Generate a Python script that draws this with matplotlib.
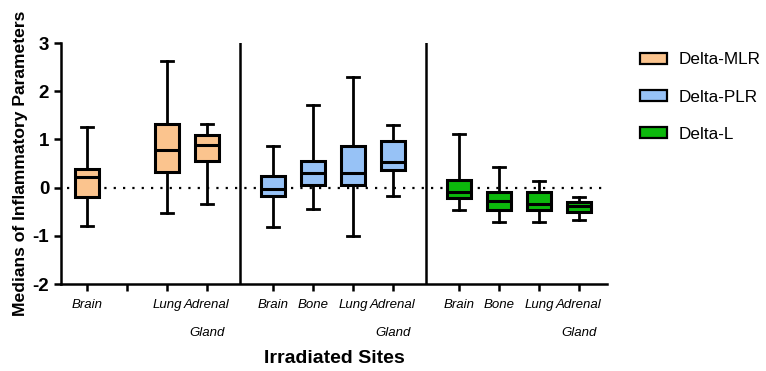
import matplotlib
matplotlib.use("Agg")
import matplotlib.pyplot as plt
from matplotlib.patches import Patch

plt.rcParams["font.family"] = ["Liberation Sans", "DejaVu Sans"]
plt.rcParams["axes.unicode_minus"] = False

groups = ["Delta-MLR", "Delta-PLR", "Delta-L"]
colors = ["#FBC48E", "#97C2F6", "#0CB80C"]
sites = ["Brain", "Bone", "Lung", "Adrenal\n\nGland"]

# five-number summaries per site: low whisker, Q1, median, Q3, high whisker (None = no data)
mlr = [(-0.79, -0.19, 0.22, 0.39, 1.25), None,
       (-0.52, 0.32, 0.78, 1.33, 2.63), (-0.35, 0.56, 0.88, 1.10, 1.31)]
plr = [(-0.81, -0.18, -0.02, 0.25, 0.86), (-0.45, 0.06, 0.31, 0.56, 1.71),
       (-1.00, 0.05, 0.30, 0.86, 2.30), (-0.18, 0.37, 0.54, 0.96, 1.30)]
dl = [(-0.47, -0.22, -0.10, 0.16, 1.12), (-0.71, -0.46, -0.28, -0.10, 0.43),
      (-0.71, -0.47, -0.34, -0.09, 0.14), (-0.68, -0.50, -0.38, -0.29, -0.19)]
data = [mlr, plr, dl]

fig = plt.figure(figsize=(7.66, 3.71), dpi=100)
ax = fig.add_axes([0.0796, 0.2345, 0.7128, 0.6495])

gap = 4.65
ticks, labels = [], []
for g, (series, col) in enumerate(zip(data, colors)):
    stats, pos = [], []
    for i, s in enumerate(series):
        x = g * gap + i
        ticks.append(x)
        labels.append(sites[i] if s is not None else "")
        if s is None:
            continue
        lo, q1, med, q3, hi = s
        stats.append(dict(whislo=lo, q1=q1, med=med, q3=q3, whishi=hi, fliers=[]))
        pos.append(x)
    ax.bxp(stats, positions=pos, widths=0.62, patch_artist=True, showfliers=False,
           boxprops=dict(facecolor=col, edgecolor="black", linewidth=2.2),
           medianprops=dict(color="black", linewidth=2.2),
           whiskerprops=dict(color="black", linewidth=2),
           capprops=dict(color="black", linewidth=2), capwidths=0.3)
    if g > 0:
        ax.axvline(g * gap - (gap - 3) / 2, color="black", lw=1.8)

ax.plot([-0.5, 12.9], [0, 0], ls=(0, (1, 3.2)), color="black", lw=1.6, zorder=0)

ax.set_xlim(-0.65, 13.0)
ax.set_ylim(-2, 3)
ax.set_yticks([-2, -1, 0, 1, 2, 3])
ax.set_xticks(ticks)
ax.set_xticklabels(labels, fontstyle="italic", fontsize=9.5, va="top", linespacing=1.2)
for lab in ax.get_yticklabels():
    lab.set_fontweight("bold")
    lab.set_fontsize(13.5)
ax.tick_params(axis="both", width=1.8, length=5, direction="out")
ax.tick_params(axis="x", pad=6)
for side in ["top", "right"]:
    ax.spines[side].set_visible(False)
for side in ["left", "bottom"]:
    ax.spines[side].set_linewidth(1.8)

ax.set_ylabel("Medians of Inflammatory Parameters", fontsize=12.6, fontweight="bold", labelpad=3)
ax.set_xlabel("Irradiated Sites", fontsize=14, fontweight="bold", labelpad=8)

handles = [Patch(facecolor=c, edgecolor="black", linewidth=1.6, label=n) for n, c in zip(groups, colors)]
fig.legend(handles=handles, loc="upper left", bbox_to_anchor=(0.815, 0.9), frameon=False,
           fontsize=12.3, handlelength=1.6, handleheight=0.6, labelspacing=1.3, handletextpad=0.7)

fig.savefig("out.png", dpi=100)
